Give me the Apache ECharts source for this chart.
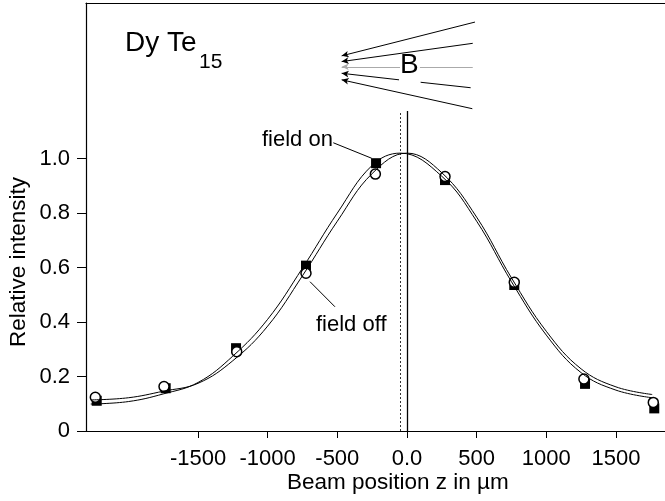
<!DOCTYPE html>
<html>
<head>
<meta charset="utf-8">
<script src="https://cdn.jsdelivr.net/npm/echarts@6/dist/echarts.min.js"></script>
<style>
html,body{margin:0;padding:0;background:#fff;}
#main{width:665px;height:501px;}
</style>
</head>
<body>
<div id="main"></div>
<script>
// tick positions
const xTicks = [-1500, -1000, -500, 0, 500, 1000, 1500];
const yTicks = [0, 0.2, 0.4, 0.6, 0.8, 1.0];

// measured points: field on (filled squares)
const onZ   = [-2227, -1732, -1227, -725, -222, 273, 770, 1278, 1775];
const onVal = [0.111, 0.157, 0.304, 0.607, 0.983, 0.921, 0.536, 0.173, 0.083];
// measured points: field off (open circles)
const offZ   = [-2237, -1744, -1222, -725, -227, 273, 770, 1270, 1768];
const offVal = [0.124, 0.163, 0.291, 0.579, 0.943, 0.934, 0.546, 0.191, 0.105];

// fitted curves
const fitOnZ   = [-2270, -2000, -1750, -1500, -1250, -1000, -750, -500, -250, -48, 250, 500, 750, 1000, 1250, 1500, 1760];
const fitOnVal = [0.099, 0.108, 0.136, 0.178, 0.275, 0.410, 0.598, 0.800, 0.975, 1.020, 0.935, 0.770, 0.548, 0.352, 0.214, 0.150, 0.122];
const fitOffZ   = [-2270, -2000, -1750, -1500, -1250, -1000, -750, -500, -250, 0, 250, 500, 750, 1000, 1250, 1500, 1760];
const fitOffVal = [0.114, 0.122, 0.146, 0.175, 0.258, 0.385, 0.570, 0.770, 0.945, 1.020, 0.948, 0.785, 0.562, 0.366, 0.228, 0.162, 0.134];

// field lines of the little B sketch (data units), arrow at first point
const fieldLines = [
    [[-469, 1.377], [488, 1.501]],
    [[-469, 1.356], [472, 1.423]],
    [[-469, 1.313], [-57, 1.289]],
    [[-469, 1.289], [469, 1.183]]
];
const fieldLineGray = [[[-469, 1.337], [-50, 1.337]]];
const fieldLinesNoArrow = [
    [[93, 1.337], [472, 1.337]],
    [[98, 1.280], [457, 1.260]]
];
// leader lines of the labels
const leaders = [
    [[-529, 1.058], [-253, 1.001]],
    [[-696, 0.548], [-517, 0.456]]
];
const vLineTop = 1.175;

function zip(a, b) {
    let out = [];
    for (let i = 0; i < a.length; i++) {
        out.push([a[i], b[i]]);
    }
    return out;
}

const FONT = 'Liberation Sans';
let chart = echarts.init(document.getElementById('main'));

let mlData = [];
for (let l of fieldLines) {
    mlData.push([{coord: l[0], symbol: 'arrow', symbolSize: [5, 7]}, {coord: l[1], symbol: 'none'}]);
}
for (let l of fieldLineGray) {
    mlData.push([{coord: l[0], symbol: 'arrow', symbolSize: [5, 7], lineStyle: {color: '#aaa'}}, {coord: l[1], symbol: 'none'}]);
}
for (let l of fieldLinesNoArrow) {
    let c = l[0][1] == l[1][1] ? '#aaa' : '#000';
    mlData.push([{coord: l[0], symbol: 'none', lineStyle: {color: c}}, {coord: l[1], symbol: 'none'}]);
}
for (let l of leaders) {
    mlData.push([{coord: l[0], symbol: 'none'}, {coord: l[1], symbol: 'none'}]);
}
mlData.push([{coord: [0, 0], symbol: 'none', lineStyle: {width: 1.3}}, {coord: [0, vLineTop], symbol: 'none'}]);
mlData.push([{coord: [-48, 0], symbol: 'none', lineStyle: {type: [2, 2], width: 0.8}}, {coord: [-48, vLineTop], symbol: 'none'}]);

let option = {
    animation: false,
    grid: {left: 86, right: 0, top: 3, bottom: 70},
    xAxis: [{
        type: 'value',
        min: -2304,
        max: 1852,
        axisLine: {onZero: false, lineStyle: {color: '#000', width: 1.2}},
        axisTick: {customValues: xTicks, length: 7, lineStyle: {color: '#000'}},
        axisLabel: {
            customValues: xTicks,
            fontSize: 22, fontFamily: FONT, color: '#000', margin: 17,
            formatter: function (v) { return v == 0 ? '0.0' : String(v); }
        },
        splitLine: {show: false}
    }, {
        type: 'value',
        position: 'top',
        min: -2304,
        max: 1852,
        axisLine: {show: true, onZero: false, lineStyle: {color: '#000', width: 1.2}},
        axisTick: {show: false},
        axisLabel: {show: false},
        splitLine: {show: false}
    }],
    yAxis: {
        type: 'value',
        min: 0,
        max: 1.571,
        axisLine: {show: true, onZero: false, lineStyle: {color: '#000', width: 1.2}},
        axisTick: {show: true, customValues: yTicks, length: 9, lineStyle: {color: '#000'}},
        axisLabel: {
            customValues: yTicks,
            fontSize: 22, fontFamily: FONT, color: '#000', margin: 16,
            formatter: function (v) { return v == 0 ? '0' : v.toFixed(1); }
        },
        splitLine: {show: false}
    },
    graphic: [
        {type: 'text', left: 125, top: 29, style: {text: 'Dy Te', font: '28px ' + FONT, fill: '#000'}},
        {type: 'text', left: 199, top: 52, style: {text: '15', font: '21px ' + FONT, fill: '#000'}},
        {type: 'text', left: 400, top: 51, style: {text: 'B', font: '28px ' + FONT, fill: '#000'}},
        {type: 'text', left: 262, top: 129, style: {text: 'field on', font: '22px ' + FONT, fill: '#000'}},
        {type: 'text', left: 316, top: 314, style: {text: 'field off', font: '22px ' + FONT, fill: '#000'}},
        {type: 'text', left: 287, top: 471, style: {text: 'Beam position z in µm', font: '22.5px ' + FONT, fill: '#000'}},
        {type: 'text', x: 7, y: 347, rotation: Math.PI / 2,
            style: {text: 'Relative intensity', font: '22.5px ' + FONT, fill: '#000'}}
    ],
    series: [
        {
            name: 'fit on',
            type: 'line',
            data: zip(fitOnZ, fitOnVal),
            smooth: 0.4,
            symbol: 'none',
            lineStyle: {color: '#000', width: 1},
            markLine: {
                silent: true,
                symbol: ['none', 'none'],
                label: {show: false},
                lineStyle: {color: '#000', width: 1, type: 'solid'},
                data: mlData
            }
        },
        {
            name: 'fit off',
            type: 'line',
            data: zip(fitOffZ, fitOffVal),
            smooth: 0.4,
            symbol: 'none',
            lineStyle: {color: '#000', width: 1}
        },
        {
            name: 'field on',
            type: 'scatter',
            data: zip(onZ, onVal),
            symbol: 'rect',
            symbolSize: 10,
            itemStyle: {color: '#000', opacity: 1}
        },
        {
            name: 'field off',
            type: 'scatter',
            data: zip(offZ, offVal),
            symbol: 'circle',
            symbolSize: 10,
            itemStyle: {color: '#fff', borderColor: '#000', borderWidth: 1.5, opacity: 1}
        }
    ]
};

chart.setOption(option);
</script>
</body>
</html>
